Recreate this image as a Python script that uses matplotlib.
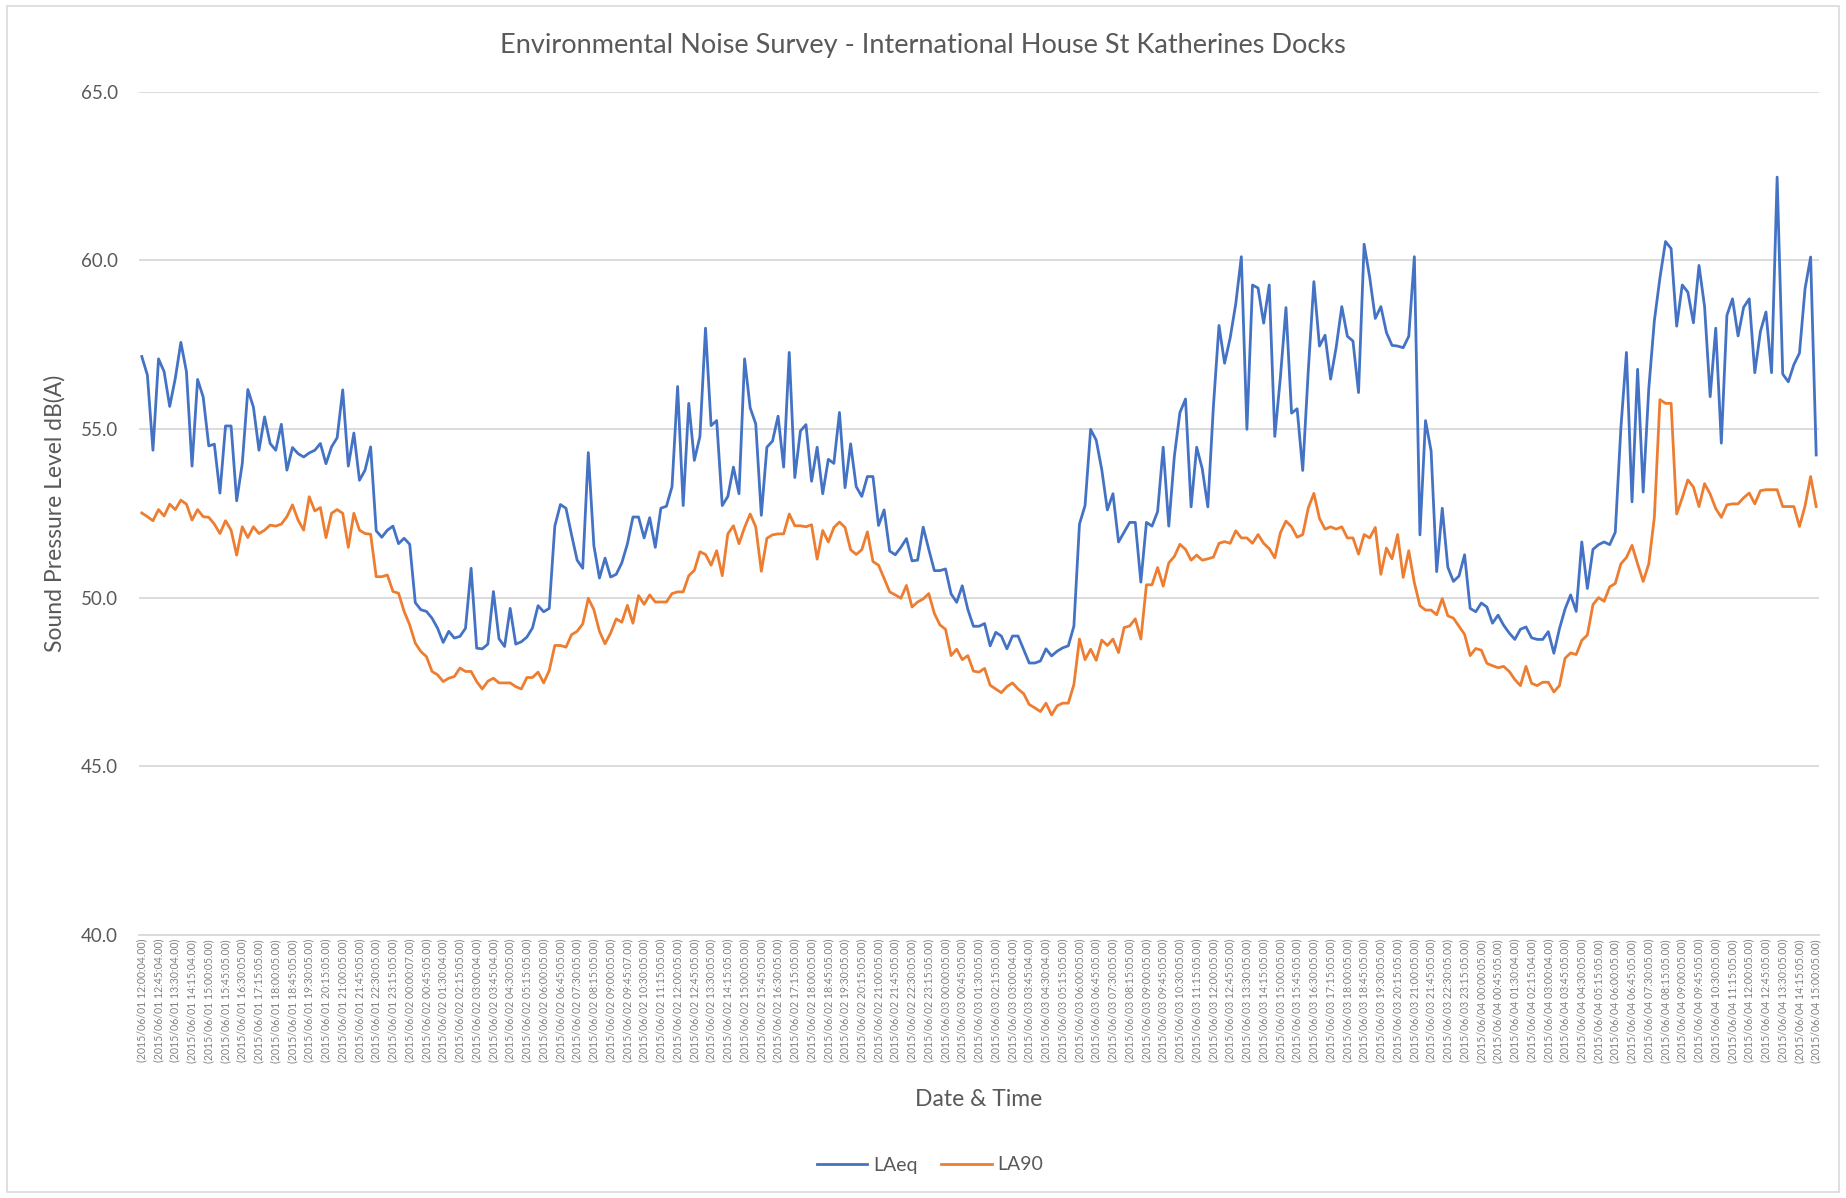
import matplotlib
matplotlib.use("Agg")
import matplotlib.pyplot as plt
from matplotlib.patches import Rectangle
import numpy as np
from datetime import datetime, timedelta

plt.rcParams['font.family'] = ['Lato', 'DejaVu Sans']

# LAeq, 15-minute values (dB(A))
laeq = [
    57.15, 56.6, 54.37, 57.08, 56.7, 55.67, 56.5, 57.57, 56.7, 53.9,
    56.47, 55.95, 54.5, 54.55, 53.1, 55.09, 55.09, 52.87, 53.97, 56.17,
    55.65, 54.37, 55.36, 54.57, 54.37, 55.14, 53.78, 54.45, 54.27, 54.17,
    54.29, 54.37, 54.57, 53.97, 54.47, 54.74, 56.16, 53.9, 54.88, 53.48,
    53.78, 54.47, 51.98, 51.79, 52.0, 52.12, 51.6, 51.76, 51.58, 49.85,
    49.64, 49.59, 49.39, 49.09, 48.67, 49.0, 48.8, 48.85, 49.09, 50.87,
    48.5, 48.48, 48.62, 50.18, 48.78, 48.55, 49.68, 48.62, 48.69, 48.83,
    49.1, 49.76, 49.58, 49.68, 52.12, 52.76, 52.65, 51.86, 51.11, 50.87,
    54.3, 51.54, 50.58, 51.17, 50.61, 50.69, 51.03, 51.59, 52.39, 52.39,
    51.77, 52.37, 51.49, 52.65, 52.71, 53.29, 56.26, 52.73, 55.76, 54.07,
    54.78, 57.99, 55.1, 55.25, 52.73, 53.0, 53.87, 53.08, 57.08, 55.63,
    55.15, 52.44, 54.46, 54.64, 55.38, 53.87, 57.27, 53.56, 54.94, 55.13,
    53.45, 54.46, 53.08, 54.1, 53.98, 55.49, 53.26, 54.56, 53.29, 53.0,
    53.59, 53.59, 52.14, 52.6, 51.38, 51.27, 51.49, 51.75, 51.09, 51.11,
    52.09, 51.43, 50.8, 50.8, 50.85, 50.11, 49.86, 50.35, 49.65, 49.15,
    49.15, 49.23, 48.57, 48.97, 48.86, 48.48, 48.86, 48.86, 48.46, 48.06,
    48.06, 48.12, 48.48, 48.27, 48.41, 48.51, 48.57, 49.15, 52.18, 52.73,
    54.99, 54.67, 53.79, 52.6, 53.08, 51.65, 51.94, 52.23, 52.23, 50.46,
    52.23, 52.12, 52.55, 54.46, 52.12, 54.19, 55.49, 55.89, 52.69, 54.46,
    53.82, 52.69, 55.68, 58.07, 56.95, 57.7, 58.71, 60.11, 54.99, 59.27,
    59.18, 58.14, 59.27, 54.78, 56.53, 58.6, 55.47, 55.6, 53.77, 56.74,
    59.37, 57.46, 57.78, 56.48, 57.43, 58.63, 57.75, 57.61, 56.08, 60.48,
    59.5, 58.28, 58.63, 57.86, 57.48, 57.46, 57.41, 57.75, 60.11, 51.86,
    55.25, 54.35, 50.77, 52.65, 50.9, 50.48, 50.64, 51.27, 49.68, 49.58,
    49.84, 49.72, 49.24, 49.48, 49.18, 48.95, 48.76, 49.06, 49.13, 48.81,
    48.76, 48.76, 48.99, 48.35, 49.08, 49.66, 50.08, 49.59, 51.65, 50.27,
    51.43, 51.57, 51.65, 51.57, 51.94, 55.02, 57.27, 52.84, 56.77, 53.13,
    56.19, 58.21, 59.48, 60.56, 60.35, 58.05, 59.27, 59.06, 58.15, 59.85,
    58.63, 55.96, 57.99, 54.58, 58.37, 58.86, 57.76, 58.61, 58.86, 56.67,
    57.89, 58.47, 56.67, 62.47, 56.63, 56.4, 56.91, 57.25, 59.16, 60.1,
    54.23,
]

# LA90, 15-minute values (dB(A))
la90 = [
    52.51, 52.4, 52.28, 52.61, 52.42, 52.77, 52.61, 52.89, 52.77, 52.3,
    52.61, 52.4, 52.38, 52.18, 51.9, 52.28, 52.0, 51.26, 52.1, 51.78,
    52.1, 51.9, 52.0, 52.15, 52.12, 52.18, 52.4, 52.75, 52.3, 52.0,
    52.99, 52.57, 52.67, 51.78, 52.5, 52.61, 52.5, 51.49, 52.5, 52.0,
    51.9, 51.88, 50.62, 50.62, 50.67, 50.18, 50.13, 49.59, 49.19, 48.65,
    48.4, 48.25, 47.81, 47.71, 47.51, 47.61, 47.66, 47.91, 47.81, 47.81,
    47.51, 47.29, 47.52, 47.61, 47.47, 47.47, 47.47, 47.36, 47.29, 47.63,
    47.63, 47.79, 47.47, 47.84, 48.58, 48.58, 48.53, 48.9, 49.0, 49.22,
    49.98, 49.64, 49.0, 48.63, 48.95, 49.37, 49.27, 49.77, 49.24, 50.06,
    49.8, 50.08, 49.87, 49.87, 49.87, 50.12, 50.17, 50.17, 50.65, 50.81,
    51.36, 51.28, 50.96, 51.39, 50.65, 51.89, 52.13, 51.6, 52.08, 52.48,
    52.1, 50.78, 51.76, 51.86, 51.89, 51.89, 52.48, 52.13, 52.13, 52.1,
    52.16, 51.14, 51.99, 51.65, 52.08, 52.24, 52.08, 51.42, 51.28, 51.42,
    51.95, 51.07, 50.96, 50.57, 50.17, 50.08, 49.98, 50.36, 49.72, 49.87,
    49.96, 50.12, 49.53, 49.19, 49.06, 48.28, 48.47, 48.16, 48.28, 47.82,
    47.79, 47.9, 47.4, 47.29, 47.18, 47.36, 47.47, 47.29, 47.15, 46.83,
    46.73, 46.62, 46.87, 46.52, 46.79, 46.87, 46.87, 47.42, 48.77, 48.16,
    48.47, 48.14, 48.74, 48.58, 48.77, 48.37, 49.11, 49.16, 49.37, 48.77,
    50.38, 50.38, 50.89, 50.34, 51.03, 51.22, 51.58, 51.43, 51.11, 51.26,
    51.11, 51.15, 51.2, 51.61, 51.66, 51.61, 51.98, 51.77, 51.77, 51.61,
    51.87, 51.61, 51.45, 51.18, 51.92, 52.27, 52.1, 51.79, 51.87, 52.66,
    53.09, 52.35, 52.03, 52.1, 52.03, 52.1, 51.77, 51.77, 51.29, 51.87,
    51.77, 52.08, 50.69, 51.47, 51.15, 51.87, 50.6, 51.39, 50.44, 49.76,
    49.63, 49.63, 49.49, 49.97, 49.46, 49.39, 49.15, 48.91, 48.28, 48.49,
    48.44, 48.05, 47.98, 47.92, 47.96, 47.81, 47.57, 47.39, 47.96, 47.46,
    47.39, 47.49, 47.49, 47.2, 47.39, 48.2, 48.36, 48.31, 48.73, 48.89,
    49.79, 50.0, 49.89, 50.32, 50.42, 51.0, 51.19, 51.55, 51.0, 50.48,
    51.0, 52.38, 55.87, 55.76, 55.76, 52.48, 52.96, 53.49, 53.28, 52.7,
    53.38, 53.07, 52.64, 52.38, 52.75, 52.78, 52.78, 52.96, 53.1, 52.78,
    53.17, 53.2, 53.2, 53.2, 52.7, 52.7, 52.7, 52.11, 52.72, 53.59,
    52.7,
]

# Tick labels: every third 15-minute sample (45 minutes apart)
label_start = datetime(2015, 6, 1, 12, 0, 0)
label_step_minutes = 45
label_seconds = [
    4, 4, 4, 4, 5, 5, 5, 5, 5, 5, 5, 5, 5, 5, 5, 5, 7, 5, 4, 5,
    4, 4, 5, 5, 5, 5, 5, 5, 5, 7, 5, 5, 5, 5, 5, 5, 5, 5, 5, 5,
    5, 5, 5, 5, 5, 5, 5, 5, 5, 5, 5, 5, 4, 4, 4, 5, 5, 5, 5, 5,
    5, 5, 5, 5, 5, 5, 5, 5, 5, 5, 5, 5, 5, 5, 5, 5, 5, 5, 5, 5,
    5, 5, 4, 4, 4, 5, 5, 5, 5, 5, 5, 5, 5, 5, 5, 5, 5, 5, 5, 5,
    5,
]
tick_labels = [
    "(" + (label_start + timedelta(minutes=label_step_minutes * k)).strftime("%Y/%m/%d %H:%M")
    + f":{s:02d}.00)"
    for k, s in enumerate(label_seconds)
]

title = "Environmental Noise Survey - International House St Katherines Docks"
y_label = "Sound Pressure Level dB(A)"
x_label = "Date & Time"
series_names = ["LAeq", "LA90"]

W, H = 1846, 1198
fig = plt.figure(figsize=(W / 100, H / 100), dpi=100)
fig.patch.set_facecolor("white")

left, right, top, bottom = 139, 1819, 91.8, 934.8
ax = fig.add_axes([left / W, 1 - bottom / H, (right - left) / W, (bottom - top) / H])

x = np.arange(len(laeq))
ax.plot(x, laeq, color="#4472C4", lw=2.0, label=series_names[0], solid_joinstyle="round")
ax.plot(x, la90, color="#ED7D31", lw=2.0, label=series_names[1], solid_joinstyle="round")

ax.set_xlim(-0.5, len(laeq) - 0.5)
ax.set_ylim(40, 65)
yt = np.arange(40, 65.1, 5)
ax.set_yticks(yt)
ax.set_yticklabels([f"{v:.1f}" for v in yt], fontsize=13.5, color="#595959")
ax.grid(axis="y", color="#D9D9D9", lw=1.3)
ax.set_axisbelow(True)
for s in ["top", "right", "left"]:
    ax.spines[s].set_visible(False)
ax.spines["bottom"].set_color("#D9D9D9")
ax.spines["bottom"].set_linewidth(1.3)
ax.tick_params(axis="both", length=0)
ax.tick_params(axis="y", pad=15)
ax.tick_params(axis="x", pad=3)

ax.set_xticks(x[::3])
ax.set_xticklabels(tick_labels, rotation=90, fontsize=7.6, color="#808080")

fig.text(0.5, 1 - 45 / H, title, ha="center", va="center", fontsize=19.5, color="#595959")
fig.text(55 / W, 1 - 513 / H, y_label, ha="center", va="center", rotation=90,
         fontsize=16.5, color="#595959")
fig.text(979 / W, 1 - 1099 / H, x_label, ha="center", va="center", fontsize=16.5, color="#595959")

leg = fig.legend(loc="center", bbox_to_anchor=(930 / W, 1 - 1165 / H), ncol=2, frameon=False,
                 fontsize=14, handlelength=2.6, handletextpad=0.3, columnspacing=1.2)
for t in leg.get_texts():
    t.set_color("#595959")

fig.add_artist(Rectangle((7 / W, 6 / H), 1832 / W, 1186 / H, transform=fig.transFigure,
                         fill=False, edgecolor="#D9D9D9", lw=1.2))

fig.savefig("out.png", dpi=100)
